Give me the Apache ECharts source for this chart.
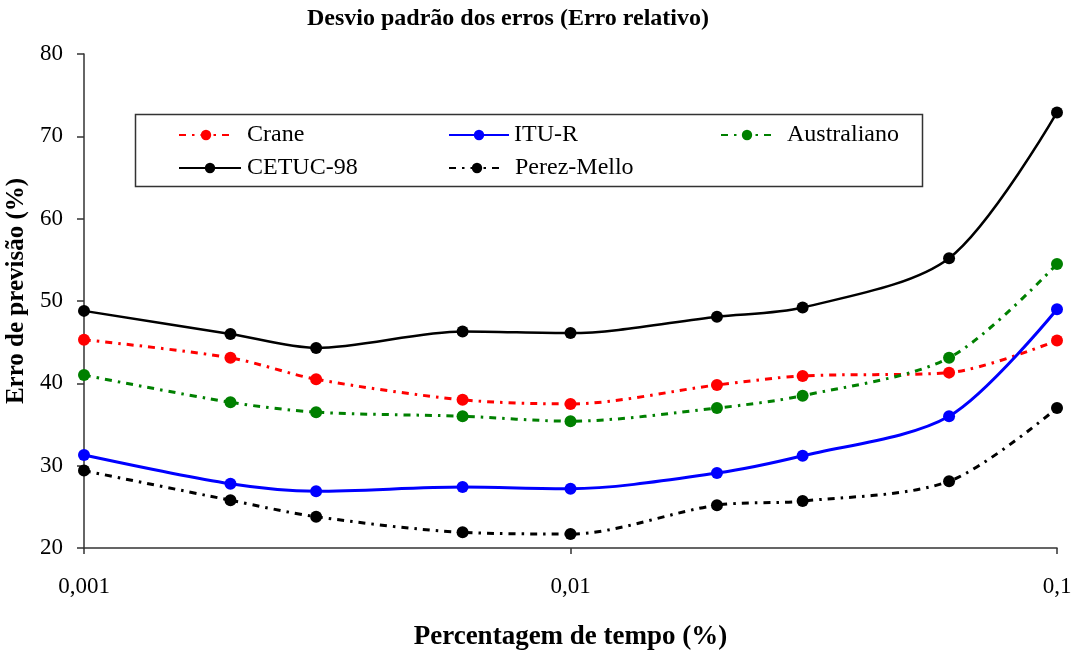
<!DOCTYPE html>
<html>
<head>
<meta charset="utf-8">
<script src="https://cdn.jsdelivr.net/npm/echarts@6/dist/echarts.min.js"></script>
<style>
  html, body { margin: 0; padding: 0; background: #fff; }
  #chart { width: 1073px; height: 655px; }
</style>
</head>
<body>
<div id="chart"></div>
<script>
// Percentage of time (%) on a logarithmic axis
const timePercent = [0.001, 0.002, 0.003, 0.006, 0.01, 0.02, 0.03, 0.06, 0.1];

// Standard deviation of the relative error (%) for each prediction model
const crane       = [45.3, 43.1, 40.5, 38.0, 37.5, 39.8, 40.9, 41.3, 45.2];
const ituR        = [31.3, 27.8, 26.9, 27.4, 27.2, 29.1, 31.2, 36.0, 49.0];
const australiano = [41.0, 37.7, 36.5, 36.0, 35.4, 37.0, 38.5, 43.1, 54.5];
const cetuc98     = [48.8, 46.0, 44.3, 46.3, 46.1, 48.1, 49.2, 55.2, 72.9];
const perezMello  = [29.4, 25.8, 23.8, 21.9, 21.7, 25.2, 25.7, 28.1, 37.0];

const xTickLabels = ['0,001', '0,01', '0,1'];
const yTicks = [20, 30, 40, 50, 60, 70, 80];

const FONT = '"Liberation Serif", "Times New Roman", serif';
const pairs = ys => timePercent.map((x, i) => [x, ys[i]]);

function makeSeries(name, values, color, dashed, width) {
  return {
    name: name,
    type: 'line',
    data: pairs(values),
    smooth: 0.3,
    symbol: 'circle',
    symbolSize: 12,
    itemStyle: { color: color },
    lineStyle: { color: color, width: width, type: dashed ? [7, 6, 2.5, 6] : 'solid' },
    emphasis: { disabled: true },
    z: 3
  };
}

// One legend entry per block so each sits where the boxed key places it
function legendAt(name, left, top, sampleWidth, textPad) {
  return {
    data: [name],
    left: left,
    top: top,
    padding: 0,
    itemWidth: sampleWidth,
    itemHeight: 13,
    selectedMode: false,
    textStyle: { fontFamily: FONT, fontSize: 24, color: '#000', padding: [0, 0, 0, textPad] }
  };
}

const chart = echarts.init(document.getElementById('chart'));
chart.setOption({
  backgroundColor: '#fff',
  animation: false,
  title: {
    text: 'Desvio padrão dos erros (Erro relativo)',
    left: 508,
    textAlign: 'center',
    top: 7,
    padding: 0,
    textStyle: { fontFamily: FONT, fontSize: 24, fontWeight: 'bold', color: '#000' }
  },
  grid: { left: 84, right: 16, top: 54, bottom: 107, outerBoundsMode: 'none', containLabel: false },
  xAxis: {
    type: 'log',
    logBase: 10,
    min: 0.001,
    max: 0.1,
    name: 'Percentagem de tempo (%)',
    nameLocation: 'middle',
    nameGap: 76,
    nameTextStyle: { fontFamily: FONT, fontSize: 27, fontWeight: 'bold', color: '#000' },
    axisLine: { show: true, lineStyle: { color: '#333', width: 1.5 } },
    axisTick: { show: true, length: 6, lineStyle: { color: '#333', width: 1.5 } },
    minorTick: { show: false },
    splitLine: { show: false },
    axisLabel: {
      margin: 27,
      fontFamily: FONT,
      fontSize: 23,
      color: '#000',
      hideOverlap: false,
      formatter: v => xTickLabels[Math.round(Math.log10(v)) + 3]
    }
  },
  yAxis: {
    type: 'value',
    min: yTicks[0],
    max: yTicks[yTicks.length - 1],
    interval: 10,
    name: 'Erro de previsão (%)',
    nameLocation: 'middle',
    nameGap: 46,
    nameTextStyle: {
      fontFamily: FONT, fontSize: 25, fontWeight: 'bold', color: '#000',
      padding: [0, 0, 0, 20]
    },
    axisLine: { show: true, lineStyle: { color: '#333', width: 1.5 } },
    axisTick: { show: true, length: 7, lineStyle: { color: '#333', width: 1.5 } },
    splitLine: { show: false },
    axisLabel: { margin: 21, fontFamily: FONT, fontSize: 23, color: '#000' }
  },
  legend: [
    legendAt('Crane', 178, 123, 54, 9),
    legendAt('ITU-R', 448, 123, 60, 0),
    legendAt('Australiano', 720, 123, 52, 9),
    legendAt('CETUC-98', 178, 156, 62, 1),
    legendAt('Perez-Mello', 448, 156, 56, 5)
  ],
  graphic: [{
    type: 'rect',
    shape: { x: 135.5, y: 114.5, width: 787, height: 72 },
    style: { fill: '#fff', stroke: '#333', lineWidth: 1.5 },
    z: 0, zlevel: 0, silent: true
  }],
  series: [
    makeSeries('Crane', crane, '#ff0000', true, 3),
    makeSeries('ITU-R', ituR, '#0000ff', false, 3),
    makeSeries('Australiano', australiano, '#008000', true, 3),
    makeSeries('CETUC-98', cetuc98, '#000000', false, 2.5),
    makeSeries('Perez-Mello', perezMello, '#000000', true, 3)
  ]
});
</script>
</body>
</html>
